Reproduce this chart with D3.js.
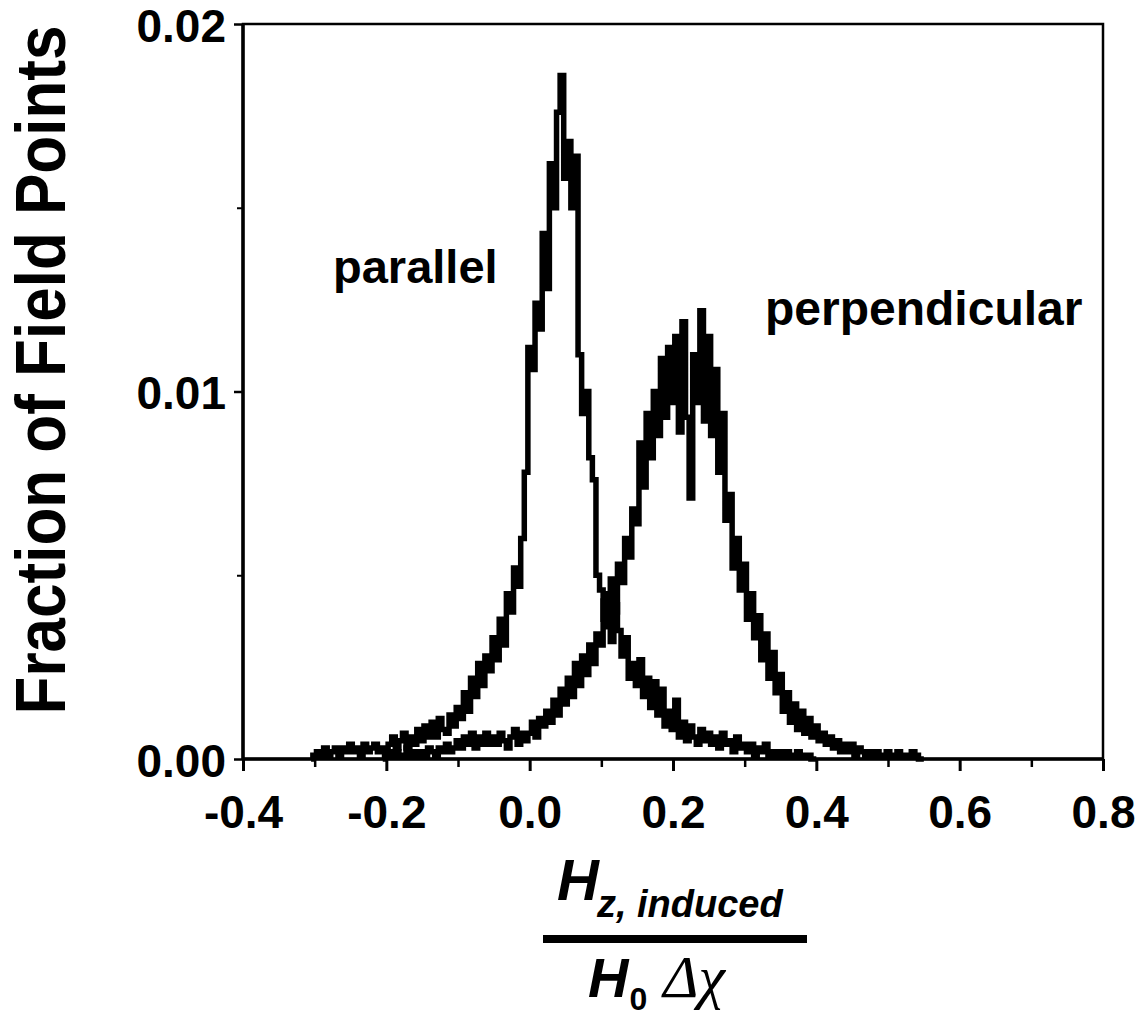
<!DOCTYPE html>
<html>
<head>
<meta charset="utf-8">
<script src="https://cdn.jsdelivr.net/npm/d3@7"></script>
<style>
  html, body { margin: 0; padding: 0; background: #fff; }
  svg { display: block; }
  text { font-family: "Liberation Sans", Arial, Helvetica, sans-serif; font-weight: bold; fill: #000; }
</style>
</head>
<body>
<svg id="chart" width="1141" height="1020"></svg>
<script>
// ---------------- data ----------------
const xTickValues = [-0.4, -0.2, 0.0, 0.2, 0.4, 0.6, 0.8];
const xTickLabels = ["-0.4", "-0.2", "0.0", "0.2", "0.4", "0.6", "0.8"];
const xMinorTicks = [-0.3, -0.1, 0.1, 0.3, 0.5, 0.7];
const yTickValues = [0.00, 0.01, 0.02];
const yTickLabels = ["0.00", "0.01", "0.02"];
const yMinorTicks = [0.005, 0.015];

const binWidth = 0.005;
const parallelStart = -0.300;
const parallelValues = [
  0.0001,0.0002,0.0001,0.0003,0.0001,0.0002,0.0003,0.0001,0.0003,0.0002,
  0.0004,0.0002,0.0003,0.0001,0.0004,0.0002,0.0003,0.0004,0.0002,0.0003,
  0.0002,0.0004,0.0006,0.0003,0.0005,0.0007,0.0003,0.0006,0.0004,0.0008,
  0.0005,0.0009,0.0006,0.0010,0.0006,0.0011,0.0008,0.0007,0.0012,0.0009,
  0.0014,0.0011,0.0018,0.0013,0.0022,0.0017,0.0026,0.0020,0.0028,0.0024,
  0.0033,0.0027,0.0038,0.0031,0.0045,0.0040,0.0052,0.0047,0.0060,0.0078,
  0.0112,0.0106,0.0124,0.0117,0.0143,0.0128,0.0162,0.0150,0.0176,0.0186,
  0.0158,0.0168,0.0150,0.0164,0.0110,0.0094,0.0100,0.0082,0.0076,0.0050,
  0.0046,0.0038,0.0045,0.0032,0.0042,0.0035,0.0028,0.0033,0.0022,0.0026,
  0.0020,0.0027,0.0017,0.0022,0.0014,0.0021,0.0012,0.0019,0.0009,0.0013,
  0.0008,0.0016,0.0006,0.0010,0.0005,0.0009,0.0006,0.0004,0.0008,0.0005,
  0.0007,0.0004,0.0006,0.0003,0.0007,0.0004,0.0005,0.0002,0.0006,0.0003,
  0.0004,0.0002,0.0004,0.0001,0.0003,0.0002,0.0004,0.0001,0.0002,0.0001,
  0.0002,0.0001,0.0002,0.0001,0.0001,0.0002,0.0001,0.0001,0.0001,0.0000
];
const perpendicularStart = -0.200;
const perpendicularValues = [
  0.0001,0.0002,0.0001,0.0002,0.0001,0.0001,0.0003,0.0001,0.0002,0.0001,
  0.0002,0.0001,0.0003,0.0002,0.0001,0.0003,0.0002,0.0004,0.0002,0.0003,
  0.0005,0.0003,0.0006,0.0004,0.0007,0.0003,0.0006,0.0004,0.0007,0.0004,
  0.0006,0.0004,0.0007,0.0005,0.0003,0.0006,0.0008,0.0004,0.0007,0.0005,
  0.0007,0.0010,0.0006,0.0011,0.0009,0.0013,0.0010,0.0016,0.0012,0.0019,
  0.0015,0.0022,0.0017,0.0026,0.0020,0.0028,0.0023,0.0031,0.0026,0.0034,
  0.0031,0.0043,0.0036,0.0049,0.0040,0.0053,0.0048,0.0060,0.0055,0.0068,
  0.0064,0.0086,0.0074,0.0094,0.0082,0.0100,0.0088,0.0109,0.0093,0.0112,
  0.0097,0.0115,0.0089,0.0119,0.0093,0.0071,0.0110,0.0097,0.0122,0.0092,
  0.0115,0.0088,0.0106,0.0078,0.0094,0.0065,0.0072,0.0052,0.0060,0.0046,
  0.0053,0.0038,0.0045,0.0033,0.0039,0.0027,0.0034,0.0022,0.0029,0.0018,
  0.0023,0.0013,0.0018,0.0010,0.0015,0.0008,0.0013,0.0007,0.0011,0.0006,
  0.0009,0.0005,0.0007,0.0004,0.0006,0.0003,0.0005,0.0002,0.0004,0.0002,
  0.0004,0.0001,0.0003,0.0002,0.0001,0.0002,0.0001,0.0002,0.0001,0.0001,
  0.0002,0.0001,0.0001,0.0002,0.0001,0.0001,0.0001,0.0002,0.0001,0.0000
];
const seriesLabels = ["parallel", "perpendicular"];
const yTitle = "Fraction of Field Points";

// ---------------- layout ----------------
const svg = d3.select("#chart");
const mLeft = 243, mRight = 1103, mTop = 24, mBottom = 759;

const x = d3.scaleLinear().domain([-0.4, 0.8]).range([mLeft, mRight]);
const y = d3.scaleLinear().domain([0, 0.02]).range([mBottom, mTop]);

function toPoints(start, vals) {
  const pts = vals.map((v, i) => [start + i * binWidth, v]);
  pts.unshift([start - binWidth, 0]);
  pts.push([start + vals.length * binWidth, 0]);
  return pts;
}

const line = d3.line()
  .x(d => x(d[0]))
  .y(d => y(d[1]))
  .curve(d3.curveStep);

const g = svg.append("g");

// curves
[toPoints(parallelStart, parallelValues), toPoints(perpendicularStart, perpendicularValues)]
  .forEach(pts => {
    g.append("path")
      .attr("d", line(pts))
      .attr("fill", "none")
      .attr("stroke", "#000")
      .attr("stroke-width", 5.5)
      .attr("stroke-linejoin", "miter");
  });

// frame
g.append("rect")
  .attr("x", mLeft).attr("y", mTop)
  .attr("width", mRight - mLeft).attr("height", mBottom - mTop)
  .attr("fill", "none").attr("stroke", "#000").attr("stroke-width", 2.5);
g.append("line").attr("x1", mLeft).attr("x2", mLeft).attr("y1", mTop).attr("y2", mBottom)
  .attr("stroke", "#000").attr("stroke-width", 3.5);
g.append("line").attr("x1", mLeft).attr("x2", mRight).attr("y1", mBottom).attr("y2", mBottom)
  .attr("stroke", "#000").attr("stroke-width", 3.5);

// x axis
const xAxis = d3.axisBottom(x).tickValues(xTickValues)
  .tickFormat((d, i) => xTickLabels[i]).tickSize(12).tickPadding(24);
const xAxisG = g.append("g").attr("transform", `translate(0,${mBottom})`).call(xAxis);
xAxisG.select(".domain").remove();
xAxisG.selectAll(".tick line").attr("stroke", "#000").attr("stroke-width", 3);
xAxisG.selectAll(".tick text")
  .style("font-family", '"Liberation Sans", Arial, sans-serif')
  .style("font-weight", "bold").style("font-size", "46px").attr("fill", "#000");

const xMinorG = g.append("g").attr("transform", `translate(0,${mBottom})`)
  .call(d3.axisBottom(x).tickValues(xMinorTicks).tickSize(8).tickFormat(""));
xMinorG.select(".domain").remove();
xMinorG.selectAll(".tick line").attr("stroke", "#000").attr("stroke-width", 2.5);

// y axis
const yAxis = d3.axisLeft(y).tickValues(yTickValues)
  .tickFormat((d, i) => yTickLabels[i]).tickSize(9).tickPadding(8);
const yAxisG = g.append("g").attr("transform", `translate(${mLeft},0)`).call(yAxis);
yAxisG.select(".domain").remove();
yAxisG.selectAll(".tick line").attr("stroke", "#000").attr("stroke-width", 2.5);
yAxisG.selectAll(".tick text")
  .style("font-family", '"Liberation Sans", Arial, sans-serif')
  .style("font-weight", "bold").style("font-size", "46px").attr("fill", "#000")
  .attr("dy", "0.38em");

const yMinorG = g.append("g").attr("transform", `translate(${mLeft},0)`)
  .call(d3.axisLeft(y).tickValues(yMinorTicks).tickSize(6).tickFormat(""));
yMinorG.select(".domain").remove();
yMinorG.selectAll(".tick line").attr("stroke", "#000").attr("stroke-width", 2);

// series labels
g.append("text").attr("x", 333).attr("y", 283).style("font-size", "47px").text(seriesLabels[0]);
g.append("text").attr("x", 765).attr("y", 325).style("font-size", "48px").text(seriesLabels[1]);

// y title
g.append("text")
  .attr("transform", "translate(65,370) rotate(-90) scale(1,1.14)")
  .attr("text-anchor", "middle")
  .style("font-size", "62px")
  .text(yTitle);

// x title (fraction)
const num = g.append("text").attr("x", 557).attr("y", 900)
  .style("font-style", "italic");
num.append("tspan").style("font-size", "58px").text("H");
num.append("tspan").style("font-size", "38px").attr("dx", "-2").attr("dy", "17").text("z, induced");

g.append("line").attr("x1", 543).attr("x2", 807).attr("y1", 939).attr("y2", 939)
  .attr("stroke", "#000").attr("stroke-width", 8);

const den = g.append("text").attr("x", 588).attr("y", 997)
  .style("font-style", "italic");
den.append("tspan").style("font-size", "56px").text("H");
den.append("tspan").style("font-size", "32px").style("font-style", "normal")
  .attr("dx", "1").attr("dy", "13").text("0");
den.append("tspan").attr("dy", "-13").attr("dx", "16")
  .style("font-family", '"Liberation Serif", "DejaVu Serif", serif')
  .style("font-weight", "normal").style("font-size", "60px").text("Δχ");
</script>
</body>
</html>
